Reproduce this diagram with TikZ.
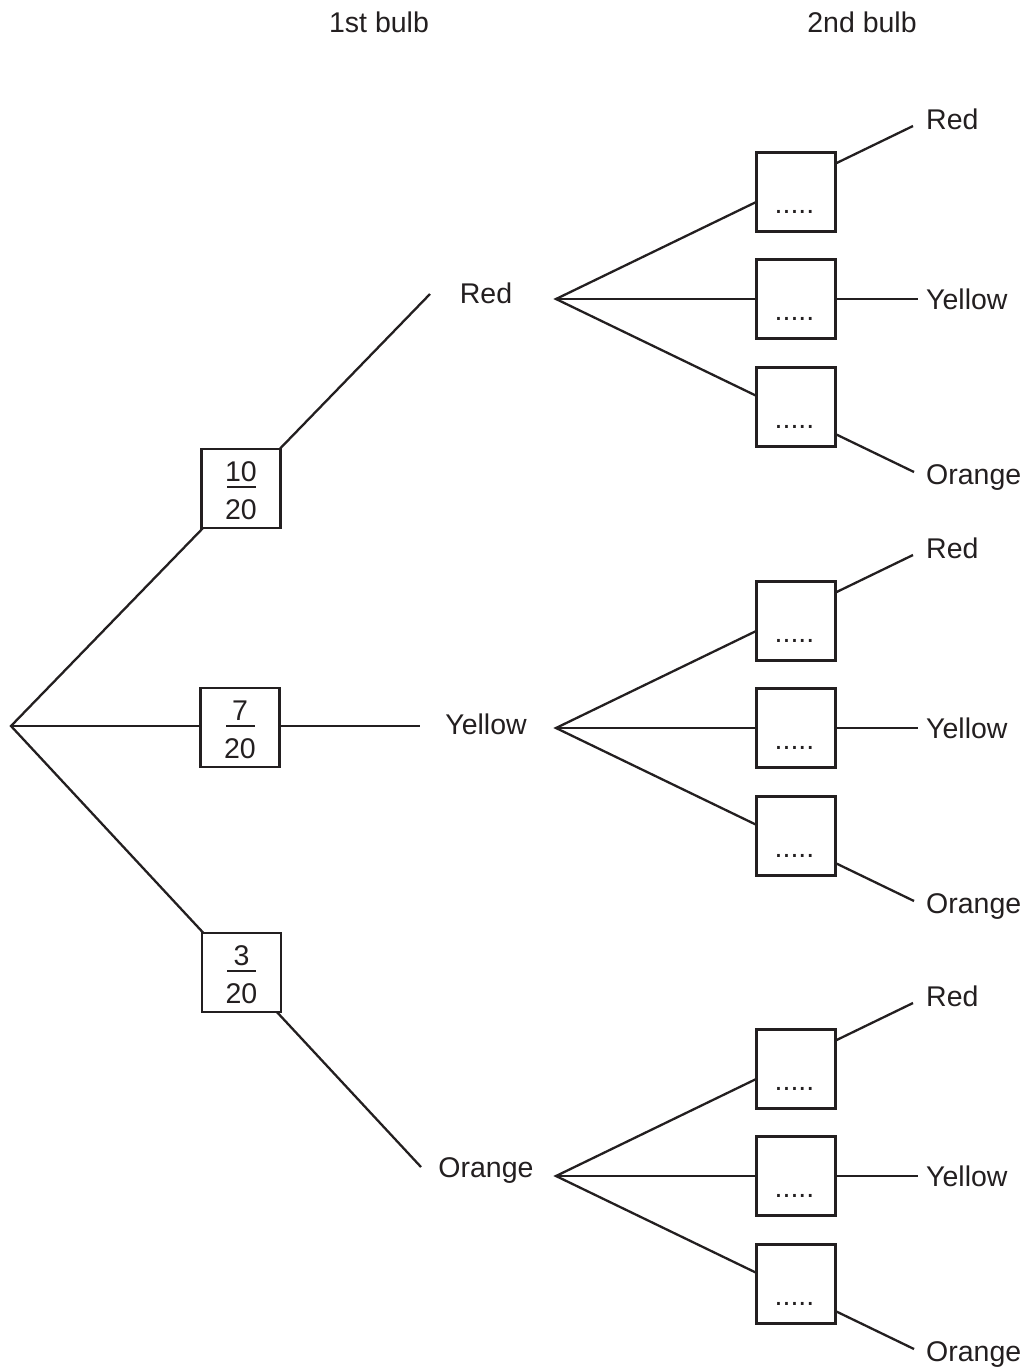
\documentclass[tikz,border=0pt]{standalone}
\usepackage{fontspec}
\setmainfont{Liberation Sans}
\usetikzlibrary{backgrounds,calc}
\definecolor{ink}{RGB}{35,31,32}
\begin{document}
\begin{tikzpicture}[x=1pt,y=-1pt,
  every node/.style={font=\fontsize{28.5}{34}\selectfont, text=ink},
  conn/.style={draw=ink, line width=2.3pt, line join=miter},
  probbox/.style={draw=ink, fill=white, line width=2.5pt, minimum width=79pt, minimum height=79pt, inner sep=0pt},
  fracbar/.style={fill=ink, draw=none, minimum width=29pt, minimum height=2.3pt, inner sep=0pt},
  lbl/.style={inner sep=0pt},
]
\useasboundingbox (0,0) rectangle (1029,1369);
% headers
\node[lbl, anchor=base] (h1) at (379,32) {1st bulb};
\node[lbl, anchor=base] (h2) at (862,32) {2nd bulb};
% first level
\coordinate (root) at (11,726);
\node[probbox] (p1) at (241,488.5) {};
\node[probbox] (p2) at (240,727.5) {};
\node[probbox] (p3) at (241.5,972.5) {};
\foreach \b/\n in {p1/10, p2/7, p3/3} {
  \node[lbl, anchor=base] (\b num) at ($(\b.center)+(0,-7.5)$) {\n};
  \node[fracbar] (\b bar) at ($(\b.center)+(0,-1.2)$) {};
  \node[lbl, anchor=base] (\b den) at ($(\b.center)+(0,30.5)$) {20};
}
\node[lbl, anchor=base] (a1) at (486,303) {Red};
\node[lbl, anchor=base] (a2) at (486,734) {Yellow};
\node[lbl, anchor=base] (a3) at (486,1177) {Orange};
\coordinate (e1) at (430,294);
\coordinate (e2) at (420,726);
\coordinate (e3) at (421,1167);
% second level
\foreach \g/\m in {r/299, y/728, o/1176} {
  \coordinate (v\g) at (556,\m);
  \node[probbox] (q\g1) at (796,{\m-107}) {};
  \node[probbox] (q\g2) at (796,\m) {};
  \node[probbox] (q\g3) at (796,{\m+108}) {};
  \foreach \j in {1,2,3} {
    \node[lbl, anchor=base] (dots\g\j) at ($(q\g\j.center)+(-1.5,21)$) {.....};
  }
  \coordinate (f\g1) at (913,{\m-173});
  \coordinate (f\g2) at (918,\m);
  \coordinate (f\g3) at (914,{\m+173});
  \node[lbl, anchor=base west] (s\g1) at (926,{\m-170}) {Red};
  \node[lbl, anchor=base west] (s\g2) at (926,{\m+10}) {Yellow};
  \node[lbl, anchor=base west] (s\g3) at (926,{\m+185}) {Orange};
}
\begin{pgfonlayer}{background}
  \draw[conn] (e1) -- (root) -- (e3);
  \draw[conn] (root) -- (e2);
  \foreach \g in {r,y,o} {
    \draw[conn] (f\g1) -- (v\g) -- (f\g3);
    \draw[conn] (v\g) -- (f\g2);
  }
\end{pgfonlayer}
\end{tikzpicture}
\end{document}
